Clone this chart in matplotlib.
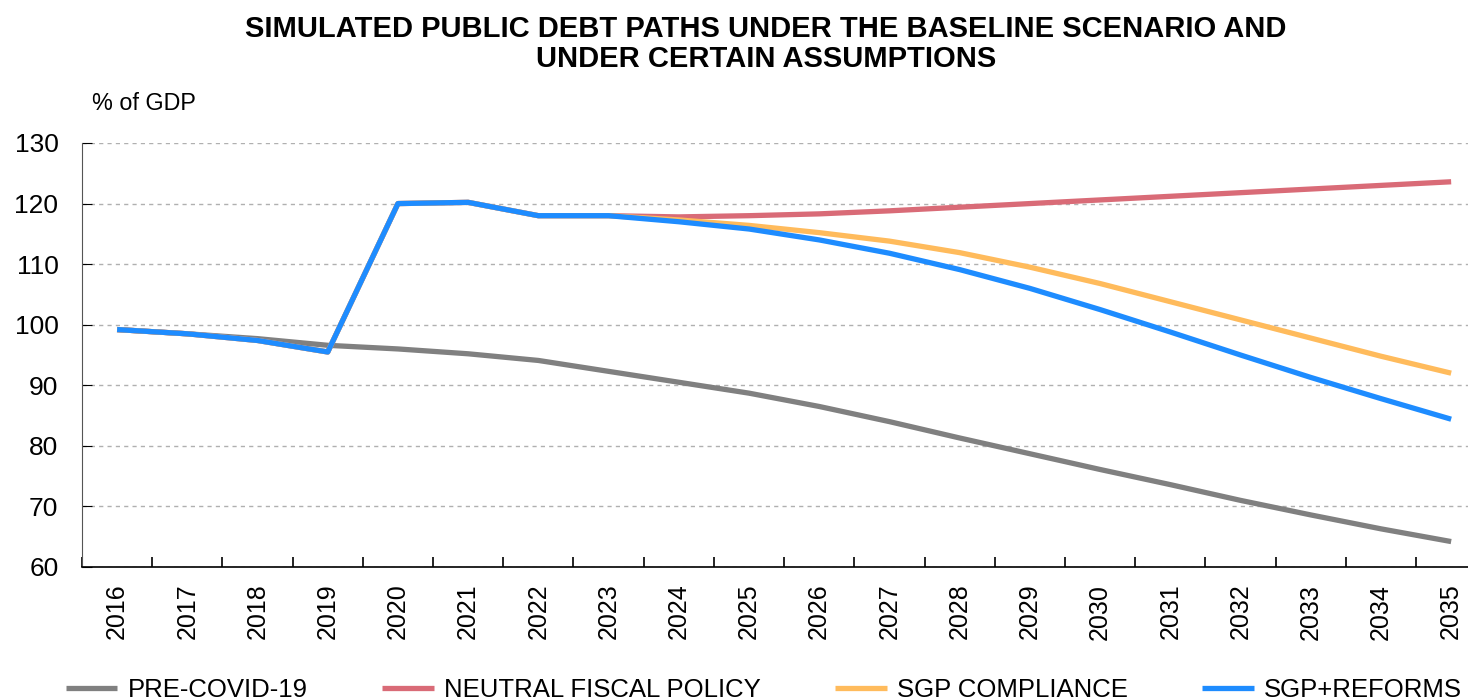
import numpy as np
import matplotlib
matplotlib.use("Agg")
import matplotlib.pyplot as plt

plt.rcParams['font.family'] = ['Liberation Sans', 'DejaVu Sans']

# data (% of GDP)
years = [str(y) for y in range(2016, 2036)]
pre_covid = [99.2, 98.5, 97.7, 96.6, 96.0, 95.2, 94.1, 92.3, 90.5, 88.7,
             86.5, 84.0, 81.3, 78.7, 76.1, 73.6, 71.0, 68.6, 66.3, 64.2]
neutral = [99.2, 98.5, 97.4, 95.5, 120.0, 120.2, 118.0, 118.0, 117.8, 118.0,
           118.3, 118.8, 119.4, 120.0, 120.6, 121.2, 121.8, 122.4, 123.0, 123.6]
sgp = [99.2, 98.5, 97.4, 95.5, 120.0, 120.2, 118.0, 118.0, 117.3, 116.4,
       115.2, 113.8, 111.9, 109.5, 106.8, 103.8, 100.8, 97.8, 94.8, 92.0]
sgp_reforms = [99.2, 98.5, 97.4, 95.5, 120.0, 120.2, 118.0, 118.0, 117.0, 115.8,
               114.0, 111.8, 109.1, 106.0, 102.5, 98.8, 95.0, 91.3, 87.8, 84.4]

labels = ["PRE-COVID-19", "NEUTRAL FISCAL POLICY", "SGP COMPLIANCE", "SGP+REFORMS"]
colors = ["#808080", "#d96b77", "#ffbb5c", "#1e8cff"]

fig = plt.figure(figsize=(14.68, 6.99), dpi=100)
ax = fig.add_axes([82 / 1468, 1 - 567 / 699, 1 - 82 / 1468, (567 - 143) / 699])

x = np.arange(len(years))
for ser, lab, col in zip([pre_covid, neutral, sgp, sgp_reforms], labels, colors):
    ax.plot(x, ser, color=col, lw=3.8, label=lab, solid_capstyle='butt')

ax.set_yticks(range(60, 131, 10))
ax.set_xticks(x)
ax.set_xticklabels(years, rotation=90)
ax.set_xticks(np.arange(-0.5, 20, 1), minor=True)
ax.set_ylim(60, 130)
ax.set_xlim(-0.5, 19.24)
ax.tick_params(axis='x', which='major', length=0, pad=12, labelsize=18)
ax.tick_params(axis='x', which='minor', direction='in', length=7, width=1.2)
ax.tick_params(axis='y', direction='in', length=7, labelsize=19, pad=17)
ax.yaxis.grid(True, linestyle=(0, (3, 3)), color='#b0b0b0', lw=1)
ax.set_axisbelow(True)
for s in ['top', 'right']:
    ax.spines[s].set_visible(False)
ax.spines['left'].set_color('#555555')
ax.spines['bottom'].set_linewidth(1.2)

fig.text(92 / 1468, 1 - 104 / 699, "% of GDP", fontsize=16.8, va='center', ha='left')
fig.text(766 / 1468, 1 - 44 / 699,
         "SIMULATED PUBLIC DEBT PATHS UNDER THE BASELINE SCENARIO AND\nUNDER CERTAIN ASSUMPTIONS",
         ha='center', va='center', fontsize=21, fontweight='bold', linespacing=1.1)

fig.legend(loc='center left', bbox_to_anchor=(66 / 1468, 1 - 690 / 699), ncol=4,
           frameon=False, fontsize=18.5, handlelength=2.0, handletextpad=0.4,
           columnspacing=2.9, borderaxespad=0, borderpad=0)

fig.savefig("out.png", dpi=100)
